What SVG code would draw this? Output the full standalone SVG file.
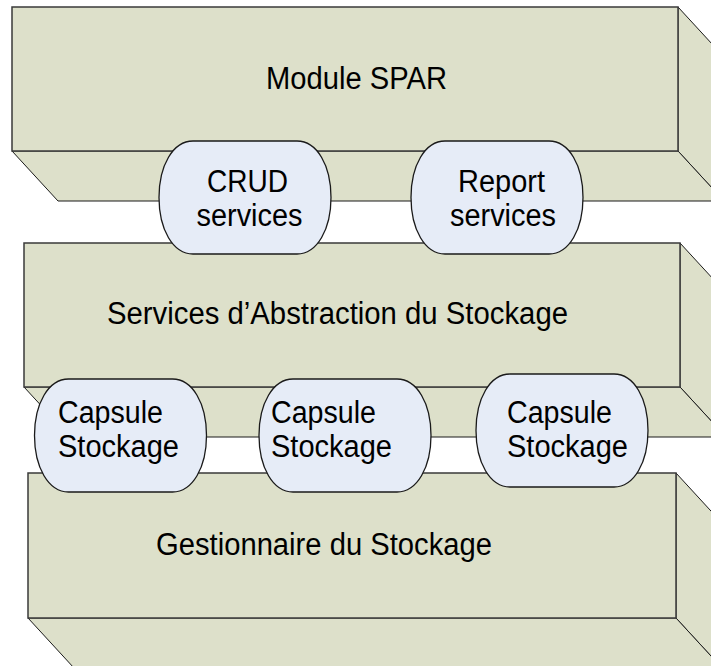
<svg xmlns="http://www.w3.org/2000/svg" xmlns:xlink="http://www.w3.org/1999/xlink" width="711" height="666" viewBox="0 0 711 666">
<style>
.face{fill:#DDE0CA;stroke:#3a3a3a;stroke-width:1.5;stroke-linejoin:miter}
.side{fill:#DDE0CA;stroke:#1a1a1a;stroke-width:1}
.pill{fill:#E6ECF7;stroke:#1a1a1a;stroke-width:1.3}
text{font-family:"Liberation Sans",Arial,sans-serif;font-size:31px;fill:#000}
.c{text-anchor:middle}
</style>
<defs>
<path id="pillShape" d="M-52,-56.5 H52 C72,-56.5 86,-32 86,0 C86,32 72,56.5 52,56.5 H-52 C-72,56.5 -86,32 -86,0 C-86,-32 -72,-56.5 -52,-56.5 Z"/>
</defs>
<rect width="711" height="666" fill="#fff"/>
<g id="module-spar">
<polygon class="side" points="678,7 724,57 724,201 678,151"/>
<polygon class="side" points="12,151 678,151 724,201 58,201"/>
<rect class="face" x="12" y="7" width="666" height="144"/>
<text class="c" x="356.5" y="89" textLength="181" lengthAdjust="spacingAndGlyphs">Module SPAR</text>
</g>
<g id="services-abstraction">
<polygon class="side" points="680,243 726,293 726,437 680,387"/>
<polygon class="side" points="24,387 680,387 726,437 70,437"/>
<rect class="face" x="24" y="243" width="656" height="144"/>
<text class="c" x="337.5" y="324" textLength="461" lengthAdjust="spacingAndGlyphs">Services d’Abstraction du Stockage</text>
</g>
<g id="gestionnaire-stockage">
<polygon class="side" points="676,473 722,523 722,668 676,618"/>
<polygon class="side" points="28,618 676,618 722,668 74,668"/>
<rect class="face" x="28" y="473" width="648" height="145"/>
<text class="c" x="324" y="555" textLength="336" lengthAdjust="spacingAndGlyphs">Gestionnaire du Stockage</text>
</g>
<g id="crud-services">
<use xlink:href="#pillShape" class="pill" x="245" y="197.5"/>
<text class="c" x="247.5" y="192" textLength="81" lengthAdjust="spacingAndGlyphs">CRUD</text>
<text class="c" x="249.5" y="226" textLength="106" lengthAdjust="spacingAndGlyphs">services</text>
</g>
<g id="report-services">
<use xlink:href="#pillShape" class="pill" x="497" y="197.5"/>
<text class="c" x="501.5" y="192" textLength="87" lengthAdjust="spacingAndGlyphs">Report</text>
<text class="c" x="503" y="226" textLength="106" lengthAdjust="spacingAndGlyphs">services</text>
</g>
<g id="capsule-1">
<use xlink:href="#pillShape" class="pill" x="120.5" y="435.5"/>
<text x="58" y="423" textLength="105" lengthAdjust="spacingAndGlyphs">Capsule</text>
<text x="58" y="457" textLength="121" lengthAdjust="spacingAndGlyphs">Stockage</text>
</g>
<g id="capsule-2">
<use xlink:href="#pillShape" class="pill" x="345" y="435.5"/>
<text x="271" y="423" textLength="105" lengthAdjust="spacingAndGlyphs">Capsule</text>
<text x="271" y="457" textLength="121" lengthAdjust="spacingAndGlyphs">Stockage</text>
</g>
<g id="capsule-3">
<use xlink:href="#pillShape" class="pill" x="562" y="430.5"/>
<text x="507" y="423" textLength="105" lengthAdjust="spacingAndGlyphs">Capsule</text>
<text x="507" y="457" textLength="121" lengthAdjust="spacingAndGlyphs">Stockage</text>
</g>
<g id="connectors"/>
</svg>
